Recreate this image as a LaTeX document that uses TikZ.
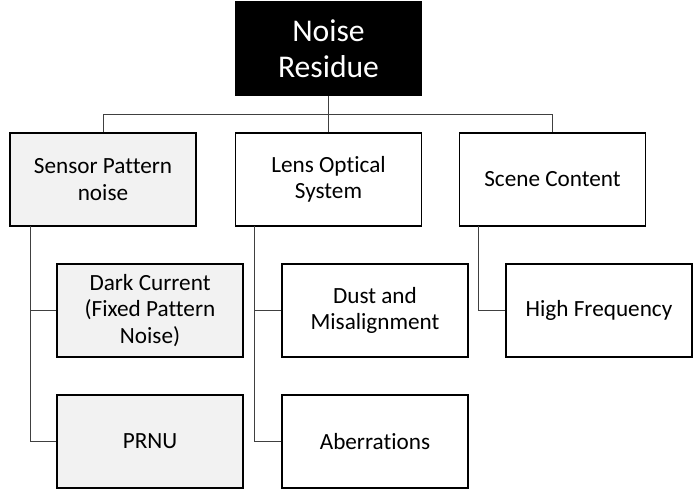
\documentclass[tikz,border=0pt]{standalone}
\usepackage{fontspec}
\setmainfont{Carlito}[Ligatures=NoCommon]
\usepackage{tikz}
\definecolor{boxgray}{HTML}{F2F2F2}
\definecolor{linkgray}{HTML}{404040}

\begin{document}
\begin{tikzpicture}[x=0.025cm,y=-0.025cm,
    box/.style={draw=black,line width=0.8pt,fill=white,minimum width=4.65cm,
      minimum height=2.325cm,align=center,inner sep=2pt,
      font=\fontsize{16.5}{18.8}\selectfont},
    shaded/.style={box,fill=boxgray},
    rootbox/.style={box,fill=black,text=white,font=\fontsize{22.5}{25.5}\selectfont},
    link/.style={draw=linkgray,line width=0.7pt}]
  \useasboundingbox (0,0) rectangle (698,488);
  % boxes
  \node[rootbox] (root) at (328.5,48.5) {Noise\\Residue};
  \node[shaded] (sensor) at (103,179.5) {Sensor Pattern\\noise};
  \node[box] (lens) at (328.5,179.5) {Lens Optical\\System};
  \node[box] (scene) at (552.5,179.5) {Scene Content};
  \node[shaded] (dark) at (150,310.5) {Dark Current\\(Fixed Pattern\\Noise)};
  \node[shaded] (prnu) at (150,441.5) {PRNU};
  \node[box] (dust) at (375,310.5) {Dust and\\Misalignment};
  \node[box] (aberr) at (375,441.5) {Aberrations};
  \node[box] (high) at (599,310.5) {High Frequency};
  % connectors
  \coordinate (busL) at (103,114);
  \coordinate (busR) at (552.5,114);
  \draw[link] (root.south) -- (root.south |- busL);
  \draw[link] (sensor.north) -- (busL) -- (busR) -- (scene.north);
  \draw[link] (lens.north) -- (lens.north |- busL);
  \coordinate (sv) at (30,226);
  \coordinate (lv) at (254,226);
  \coordinate (cv) at (478,226);
  \draw[link] (sv) |- (dark.west);
  \draw[link] (sv) |- (prnu.west);
  \draw[link] (lv) |- (dust.west);
  \draw[link] (lv) |- (aberr.west);
  \draw[link] (cv) |- (high.west);
\end{tikzpicture}
\end{document}
